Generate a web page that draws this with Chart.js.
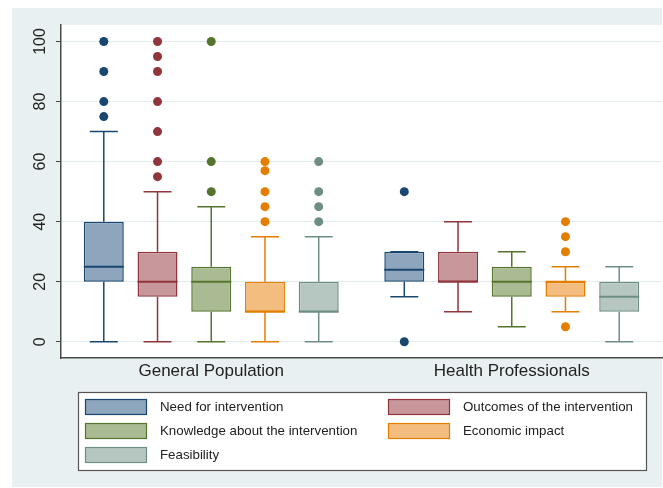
<!DOCTYPE html>
<html>
<head>
<meta charset="utf-8">
<script src="https://cdn.jsdelivr.net/npm/chart.js@4.4.1/dist/chart.umd.min.js"></script>
<style>
  html, body { margin: 0; padding: 0; background: #ffffff; }
  #wrap { width: 663px; height: 488px; }
</style>
</head>
<body>
<div id="wrap"><canvas id="chart" width="663" height="488"></canvas></div>
<script>
// Groups on the x axis and the five rated dimensions
const groups = ['General Population', 'Health Professionals'];
const seriesNames = [
  'Need for intervention',
  'Outcomes of the intervention',
  'Knowledge about the intervention',
  'Economic impact',
  'Feasibility'
];

// Box-plot statistics, one row per dimension, [General Population, Health Professionals]
const lowerWhisker  = [[0, 15], [0, 10], [0, 5],  [0, 10], [0, 0]];
const lowerQuartile = [[20, 20], [15, 20], [10, 15], [10, 15], [10, 10]];
const medians       = [[25, 24], [20, 20], [20, 20], [10, 20], [10, 15]];
const upperQuartile = [[40, 30], [30, 30], [25, 25], [20, 20], [20, 20]];
const upperWhisker  = [[70, 30], [50, 40], [45, 30], [35, 25], [35, 25]];
const outliers = [
  [[75, 80, 90, 100], [0, 50]],
  [[55, 60, 70, 80, 90, 95, 100], []],
  [[50, 60, 100], []],
  [[40, 45, 50, 57, 60], [5, 30, 35, 40]],
  [[40, 45, 50, 60], []]
];

const yTicks = [0, 20, 40, 60, 80, 100];

const lineColors = ['#1a476f', '#90353b', '#55752f', '#e37e00', '#6e8e84'];
const fillColors = ['#8da5bd', '#c8979b', '#aabb93', '#f2bd7f', '#b6c7c1'];

const FONT = "'Liberation Sans', Arial, Helvetica, sans-serif";

// Page and plot-region backgrounds
const backgroundPlugin = {
  id: 'backgrounds',
  beforeDraw(chart) {
    const { ctx, chartArea: a } = chart;
    ctx.save();
    ctx.fillStyle = '#ffffff';
    ctx.fillRect(0, 0, chart.width, chart.height);
    ctx.fillStyle = '#e9f0f2';
    ctx.fillRect(12, 8, 650, 479);
    ctx.fillStyle = '#ffffff';
    ctx.fillRect(a.left, a.top, a.right - a.left, a.bottom - a.top);
    ctx.restore();
  }
};

// Whiskers, caps, medians and outlying points on top of the quartile bars
const boxPlotPlugin = {
  id: 'boxWhiskers',
  afterDatasetsDraw(chart) {
    const { ctx } = chart;
    const yScale = chart.scales.y;
    ctx.save();
    chart.data.datasets.forEach((ds, i) => {
      const meta = chart.getDatasetMeta(i);
      meta.data.forEach((bar, j) => {
        const x = bar.x;
        const w = bar.width;
        const cap = w * 0.7;
        const yLo = yScale.getPixelForValue(lowerWhisker[i][j]);
        const yQ1 = yScale.getPixelForValue(lowerQuartile[i][j]);
        const yMed = yScale.getPixelForValue(medians[i][j]);
        const yQ3 = yScale.getPixelForValue(upperQuartile[i][j]);
        const yHi = yScale.getPixelForValue(upperWhisker[i][j]);
        ctx.strokeStyle = lineColors[i];
        ctx.lineWidth = 1.5;
        ctx.beginPath();
        ctx.moveTo(x, yQ3); ctx.lineTo(x, yHi);
        ctx.moveTo(x - cap / 2, yHi); ctx.lineTo(x + cap / 2, yHi);
        ctx.moveTo(x, yQ1); ctx.lineTo(x, yLo);
        ctx.moveTo(x - cap / 2, yLo); ctx.lineTo(x + cap / 2, yLo);
        ctx.stroke();
        ctx.lineWidth = 2;
        ctx.beginPath();
        ctx.moveTo(x - w / 2, yMed); ctx.lineTo(x + w / 2, yMed);
        ctx.stroke();
        ctx.fillStyle = lineColors[i];
        outliers[i][j].forEach(v => {
          ctx.beginPath();
          ctx.arc(x, yScale.getPixelForValue(v), 4.5, 0, Math.PI * 2);
          ctx.fill();
        });
      });
    });
    ctx.restore();
  }
};

// Framed two-column key below the plot
const keyPlugin = {
  id: 'framedKey',
  afterDraw(chart) {
    const { ctx } = chart;
    const box = { x: 78, y: 392, w: 568, h: 78 };
    ctx.save();
    ctx.fillStyle = '#ffffff';
    ctx.fillRect(box.x, box.y, box.w, box.h);
    ctx.strokeStyle = '#555555';
    ctx.lineWidth = 1.2;
    ctx.strokeRect(box.x + 0.5, box.y + 0.5, box.w, box.h);
    ctx.font = '13.3px ' + FONT;
    ctx.textBaseline = 'middle';
    ctx.textAlign = 'left';
    chart.data.datasets.forEach((ds, i) => {
      const col = i % 2;
      const row = Math.floor(i / 2);
      const sx = col === 0 ? 85 : 388;
      const cy = 407 + row * 24;
      ctx.fillStyle = ds.backgroundColor;
      ctx.fillRect(sx, cy - 8, 62, 16);
      ctx.strokeStyle = ds.borderColor;
      ctx.lineWidth = 1.2;
      ctx.strokeRect(sx + 0.5, cy - 8 + 0.5, 61, 15);
      ctx.fillStyle = '#222222';
      ctx.fillText(ds.label, sx + 75, cy);
    });
    ctx.restore();
  }
};

new Chart(document.getElementById('chart'), {
  type: 'bar',
  data: {
    labels: groups,
    datasets: seriesNames.map((name, i) => ({
      label: name,
      data: groups.map((g, j) => [lowerQuartile[i][j], upperQuartile[i][j]]),
      backgroundColor: fillColors[i],
      borderColor: lineColors[i],
      borderWidth: 1.5,
      borderSkipped: false,
      categoryPercentage: 0.894,
      barPercentage: 0.744
    }))
  },
  options: {
    responsive: false,
    animation: false,
    devicePixelRatio: 1,
    layout: { padding: { top: 25, right: 1, left: 0, bottom: 0 } },
    plugins: { legend: { display: false }, tooltip: { enabled: false } },
    scales: {
      x: {
        grid: { display: false, drawTicks: false },
        border: { display: true, color: '#4a4a4a', width: 1.5 },
        ticks: { font: { size: 17, family: FONT }, color: '#222222', padding: 3 },
        afterFit(scale) { scale.height = 130; }
      },
      y: {
        min: -5.4,
        max: 105.5,
        afterBuildTicks(scale) { scale.ticks = yTicks.map(v => ({ value: v })); },
        grid: { color: '#e2ebee', lineWidth: 1, tickColor: '#444444', tickLength: 5 },
        border: { display: true, color: '#4a4a4a', width: 1.5 },
        ticks: {
          minRotation: 90, maxRotation: 90, crossAlign: 'center', padding: 2,
          font: { size: 16, family: FONT }, color: '#222222'
        },
        afterFit(scale) { scale.width = 61; }
      }
    }
  },
  plugins: [backgroundPlugin, boxPlotPlugin, keyPlugin]
});
</script>
</body>
</html>
